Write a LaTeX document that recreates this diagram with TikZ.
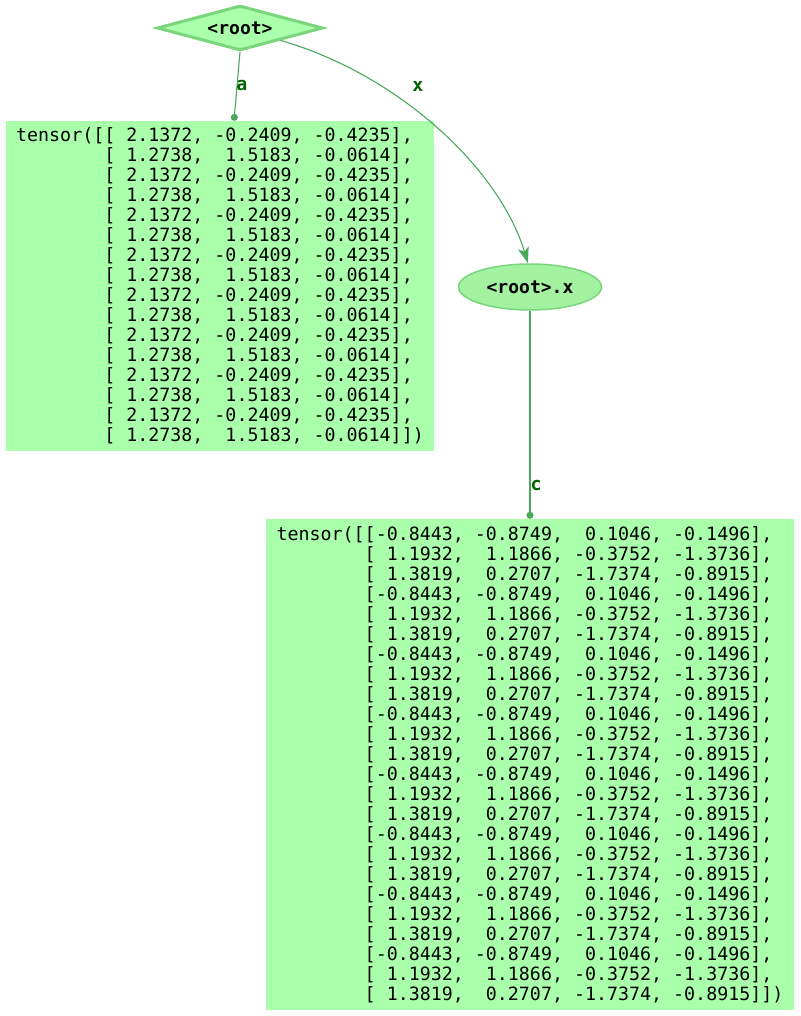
\documentclass[tikz,border=0pt]{standalone}
\usepackage{fontspec}
\setmonofont{DejaVu Sans Mono}
\usetikzlibrary{shapes.geometric,arrows.meta}
\definecolor{boxgreen}{HTML}{AAFFAA}
\definecolor{nodegreen}{HTML}{A2F2A2}
\definecolor{linegreen}{HTML}{7AD47A}
\definecolor{edgegreen}{HTML}{4AA85A}
\definecolor{labelgreen}{HTML}{006400}
\begin{document}
\begin{tikzpicture}[x=1pt,y=-1pt,
    every node/.style={font=\ttfamily\frenchspacing\fontsize{18.3}{20}\selectfont},
    tensorbox/.style={fill=boxgreen, inner sep=0pt, align=left},
    edge/.style={draw=edgegreen, line width=1.1pt},
    lbl/.style={text=labelgreen, font=\ttfamily\bfseries\fontsize{18.3}{20}\selectfont}]
  \useasboundingbox (0,0) rectangle (800,1016);
  \begin{scope}
    \node[diamond, aspect=3.6, fill=boxgreen, draw=linegreen, line width=3pt, inner sep=0pt,
          minimum width=166pt, minimum height=45pt, font=\ttfamily\bfseries\fontsize{18}{20}\selectfont]
          (root) at (240,28) {<root>};
    \node[ellipse, fill=nodegreen, draw=linegreen, line width=1.5pt, inner sep=0pt,
          minimum width=143pt, minimum height=46pt, font=\ttfamily\bfseries\fontsize{18}{20}\selectfont]
          (rx) at (530,287) {<root>.x};
  \end{scope}
  % tensors
  \node[tensorbox, minimum width=428pt, minimum height=330pt] (ta) at (220,286) {%
tensor([[~2.1372, -0.2409, -0.4235],\\
~~~~~~~~[~1.2738,~~1.5183, -0.0614],\\
~~~~~~~~[~2.1372, -0.2409, -0.4235],\\
~~~~~~~~[~1.2738,~~1.5183, -0.0614],\\
~~~~~~~~[~2.1372, -0.2409, -0.4235],\\
~~~~~~~~[~1.2738,~~1.5183, -0.0614],\\
~~~~~~~~[~2.1372, -0.2409, -0.4235],\\
~~~~~~~~[~1.2738,~~1.5183, -0.0614],\\
~~~~~~~~[~2.1372, -0.2409, -0.4235],\\
~~~~~~~~[~1.2738,~~1.5183, -0.0614],\\
~~~~~~~~[~2.1372, -0.2409, -0.4235],\\
~~~~~~~~[~1.2738,~~1.5183, -0.0614],\\
~~~~~~~~[~2.1372, -0.2409, -0.4235],\\
~~~~~~~~[~1.2738,~~1.5183, -0.0614],\\
~~~~~~~~[~2.1372, -0.2409, -0.4235],\\
~~~~~~~~[~1.2738,~~1.5183, -0.0614]])};
  \node[tensorbox, minimum width=528pt, minimum height=491pt] (tc) at (530,764.5) {%
tensor([[-0.8443, -0.8749,~~0.1046, -0.1496],\\
~~~~~~~~[~1.1932,~~1.1866, -0.3752, -1.3736],\\
~~~~~~~~[~1.3819,~~0.2707, -1.7374, -0.8915],\\
~~~~~~~~[-0.8443, -0.8749,~~0.1046, -0.1496],\\
~~~~~~~~[~1.1932,~~1.1866, -0.3752, -1.3736],\\
~~~~~~~~[~1.3819,~~0.2707, -1.7374, -0.8915],\\
~~~~~~~~[-0.8443, -0.8749,~~0.1046, -0.1496],\\
~~~~~~~~[~1.1932,~~1.1866, -0.3752, -1.3736],\\
~~~~~~~~[~1.3819,~~0.2707, -1.7374, -0.8915],\\
~~~~~~~~[-0.8443, -0.8749,~~0.1046, -0.1496],\\
~~~~~~~~[~1.1932,~~1.1866, -0.3752, -1.3736],\\
~~~~~~~~[~1.3819,~~0.2707, -1.7374, -0.8915],\\
~~~~~~~~[-0.8443, -0.8749,~~0.1046, -0.1496],\\
~~~~~~~~[~1.1932,~~1.1866, -0.3752, -1.3736],\\
~~~~~~~~[~1.3819,~~0.2707, -1.7374, -0.8915],\\
~~~~~~~~[-0.8443, -0.8749,~~0.1046, -0.1496],\\
~~~~~~~~[~1.1932,~~1.1866, -0.3752, -1.3736],\\
~~~~~~~~[~1.3819,~~0.2707, -1.7374, -0.8915],\\
~~~~~~~~[-0.8443, -0.8749,~~0.1046, -0.1496],\\
~~~~~~~~[~1.1932,~~1.1866, -0.3752, -1.3736],\\
~~~~~~~~[~1.3819,~~0.2707, -1.7374, -0.8915],\\
~~~~~~~~[-0.8443, -0.8749,~~0.1046, -0.1496],\\
~~~~~~~~[~1.1932,~~1.1866, -0.3752, -1.3736],\\
~~~~~~~~[~1.3819,~~0.2707, -1.7374, -0.8915]])};
  % edges
  \draw[edge, -{Circle[length=7pt]}] (root.south) -- ([xshift=14pt]ta.north);
  \draw[edge, -{Circle[length=7pt]}] (rx.south) -- (tc.north);
  \draw[edge, -{Stealth[length=16pt, width=11pt, inset=4pt]}]
    (root.-17) .. controls (400,75) and (500,170) .. (rx.95);
  \node[lbl] (la) at (242,86)  {a};
  \node[lbl] (lx) at (418,86)  {x};
  \node[lbl] (lc) at (536,485) {c};
\end{tikzpicture}
\end{document}
